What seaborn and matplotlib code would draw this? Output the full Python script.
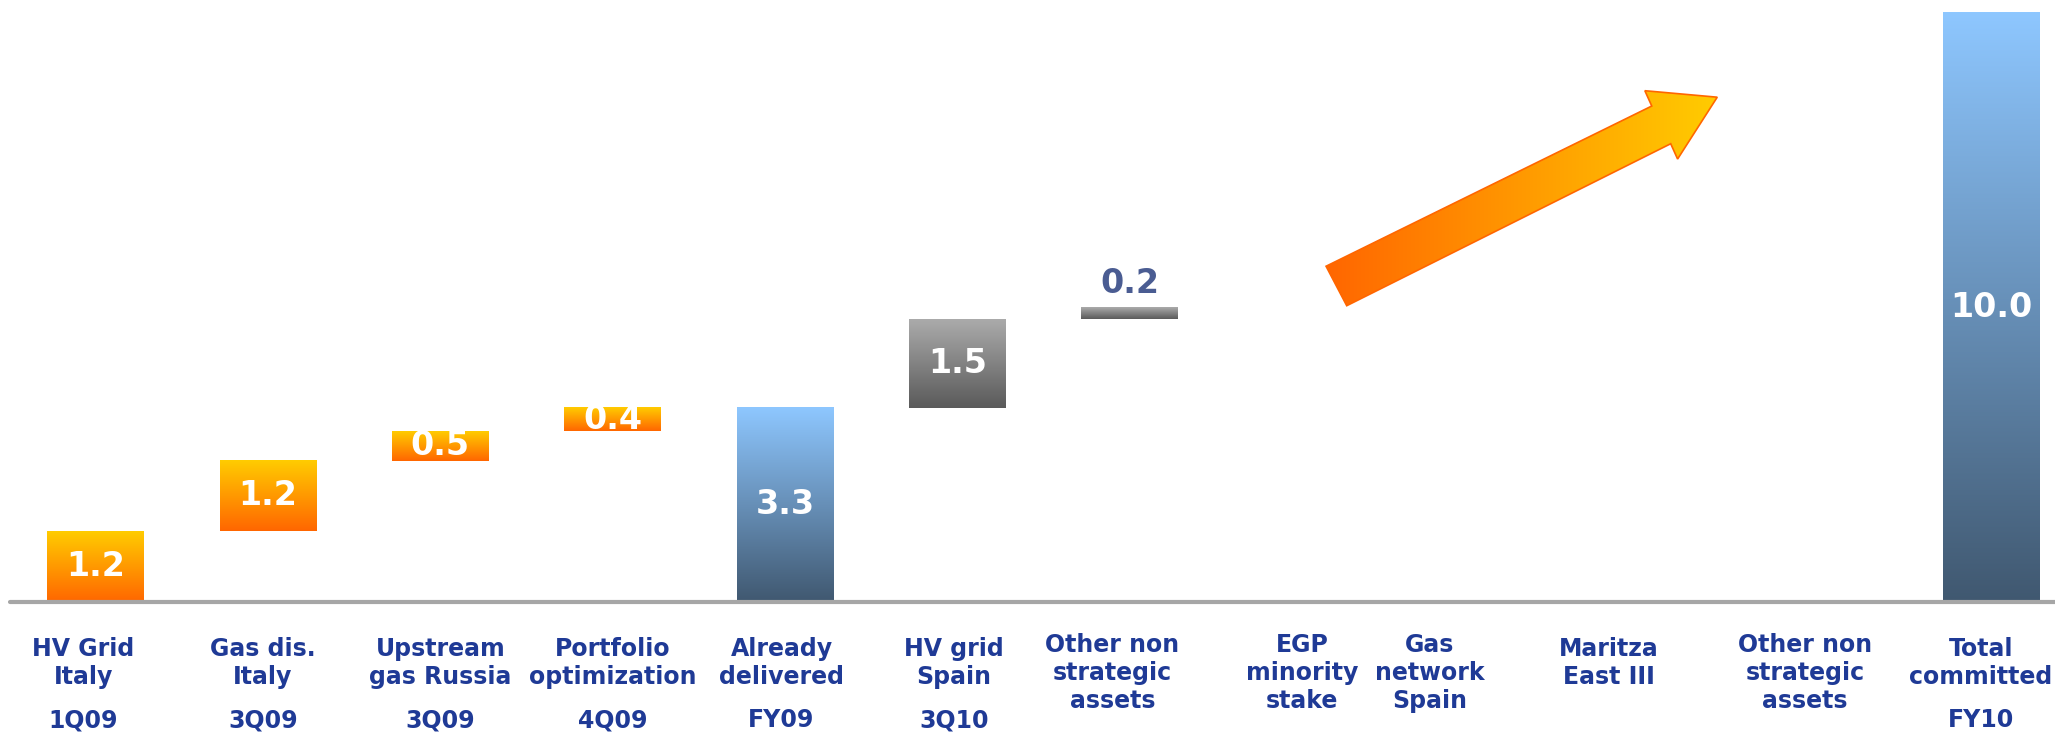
import numpy as np
import pandas as pd
import matplotlib
matplotlib.use("Agg")
import matplotlib.pyplot as plt
import matplotlib.transforms as mtransforms
from matplotlib.colors import LinearSegmentedColormap
from matplotlib.patches import Polygon
import seaborn as sns

# Disposal plan data (EUR bn)
labels = ["HV Grid\nItaly", "Gas dis.\nItaly", "Upstream\ngas Russia", "Portfolio\noptimization",
          "Already\ndelivered", "HV grid\nSpain", "Other non\nstrategic\nassets", "EGP\nminority\nstake",
          "Gas\nnetwork\nSpain", "Maritza\nEast III", "Other non\nstrategic\nassets", "Total\ncommitted"]
periods = ["1Q09", "3Q09", "3Q09", "4Q09", "FY09", "3Q10", "", "", "", "", "", "FY10"]
values = [1.2, 1.2, 0.5, 0.4, 3.3, 1.5, 0.2, 0, 0, 0, 0, 10.0]
kinds = ["done", "done", "done", "done", "total", "planned", "planned",
         "none", "none", "none", "none", "total"]

df = pd.DataFrame({"label": labels, "period": periods, "value": values, "kind": kinds})
df["slot"] = range(len(df))

# Waterfall bases: totals start at zero, steps stack on the running sum
bases = []
running = 0.0
for v, k in zip(df["value"], df["kind"]):
    if k == "total":
        bases.append(0.0)
        running = v
    else:
        bases.append(running)
        running += v
df["base"] = bases
df["top"] = df["base"] + df["value"]

# Gradients bottom -> top
grads = {
    "done": LinearSegmentedColormap.from_list("done", ["#FF6600", "#FFCC00"]),
    "total": LinearSegmentedColormap.from_list("total", ["#405870", "#8EC7FF"]),
    "planned": LinearSegmentedColormap.from_list("planned", ["#5A5A5A", "#ABABAB"]),
}
text_blue = "#1F3A96"

sns.set_style("white")
plt.rcParams["font.family"] = ["DejaVu Sans"]

fig = plt.figure(figsize=(20.55, 7.33), dpi=100)
ax = fig.add_axes([10 / 2055, 131 / 733, 1 - 10 / 2055, 602 / 733])

sns.barplot(data=df, x="slot", y="top", width=0.56, color="#cccccc", ax=ax)

grad = np.linspace(0, 1, 256).reshape(-1, 1)
for p, (_, row) in zip(ax.patches, df.iterrows()):
    p.set_y(row["base"])
    p.set_height(row["value"])
    p.set_visible(False)
    if row["kind"] == "none":
        continue
    x0, w = p.get_x(), p.get_width()
    ax.imshow(grad, extent=[x0, x0 + w, row["base"], row["top"]], origin="lower",
              cmap=grads[row["kind"]], aspect="auto", zorder=2, interpolation="bilinear")
    xc = x0 + w / 2
    if row["value"] < 0.3:
        ax.text(xc, row["top"] + 0.4, f"{row['value']:.1f}", ha="center", va="center",
                fontsize=24, fontweight="bold", color="#4A5C92", zorder=4)
    else:
        ax.text(xc, row["base"] + row["value"] / 2, f"{row['value']:.1f}", ha="center",
                va="center", fontsize=24, fontweight="bold", color="white", zorder=4)

# Baseline
ax.axhline(0, color="#A6A6A6", lw=3, clip_on=False, zorder=3)

# Category labels under the axis
label_x = [-0.07, 0.97, 2.0, 3.0, 3.98, 4.98, 5.9, 7.0, 7.74, 8.78, 9.92, 10.94]
trans = mtransforms.blended_transform_factory(ax.transData, fig.transFigure)
for lx, lab, per in zip(label_x, df["label"], df["period"]):
    y_top = 0.136 if lab.count("\n") == 2 else 0.131
    ax.text(lx, y_top, lab, transform=trans, ha="center", va="top", fontsize=17,
            fontweight="bold", color=text_blue, linespacing=1.2)
    if per:
        ax.text(lx, 0.034, per, transform=trans, ha="center", va="top", fontsize=17,
                fontweight="bold", color=text_blue)

# Growth arrow (drawn in data units)
arrow_pts = np.array([[7.14, 5.70], [9.03, 8.42], [8.99, 8.68], [9.41, 8.57],
                      [9.18, 7.52], [9.14, 7.78], [7.26, 5.03]])
arrow = Polygon(arrow_pts, closed=True, facecolor="none", edgecolor="#FF6600", lw=1.2, zorder=6)
ax.add_patch(arrow)
arrow_cmap = LinearSegmentedColormap.from_list("arrow", ["#FF6600", "#FFCC00"])
img = ax.imshow(np.linspace(0, 1, 256).reshape(1, -1),
                extent=[7.14, 9.41, 5.03, 8.68], cmap=arrow_cmap, aspect="auto", zorder=5,
                interpolation="bilinear")
img.set_clip_path(arrow)

ax.set_xlim(-0.497, 11.37)
ax.set_ylim(0, 10.22)
ax.set_xticks([])
ax.set_yticks([])
ax.set_xlabel("")
ax.set_ylabel("")
sns.despine(ax=ax, left=True, bottom=True)

fig.savefig("out.png", dpi=100)
